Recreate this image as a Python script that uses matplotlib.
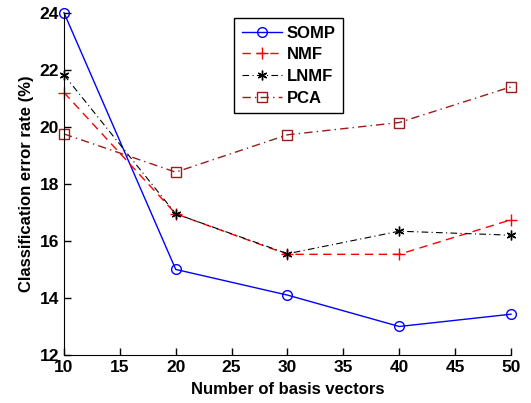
import matplotlib
matplotlib.use("Agg")
import matplotlib.pyplot as plt

x_vals = [10, 20, 30, 40, 50]
somp = [24.0, 15.0, 14.1, 13.0, 13.43]
nmf = [21.2, 16.95, 15.53, 15.53, 16.74]
lnmf = [21.82, 16.95, 15.55, 16.34, 16.2]
pca = [19.75, 18.41, 19.72, 20.15, 21.4]
labels = ["SOMP", "NMF", "LNMF", "PCA"]
xticks = [10, 15, 20, 25, 30, 35, 40, 45, 50]
yticks = [12, 14, 16, 18, 20, 22, 24]

plt.rcParams['font.family'] = ['Liberation Sans', 'DejaVu Sans']
plt.rcParams['font.weight'] = 'bold'

fig = plt.figure(figsize=(5.31, 4.03), dpi=100)
ax = fig.add_axes([0.1205, 0.1191, 0.8418, 0.8494])

pca_col = '#9b1c1c'
ax.plot(x_vals, somp, color='blue', linestyle='-', marker='o', markersize=7,
        markerfacecolor='none', markeredgecolor='blue', linewidth=1, label=labels[0],
        clip_on=False)
ax.plot(x_vals, nmf, color='red', linestyle=(0, (6, 4)), marker='+', markersize=8,
        linewidth=1, label=labels[1], clip_on=False)
ax.plot(x_vals, lnmf, color='black', linestyle=(0, (6, 3, 1, 3)), marker=(6, 2, 0), markersize=7,
        linewidth=0.8, label=labels[2], clip_on=False)
ax.plot(x_vals, pca, color=pca_col, linestyle=(0, (6, 3, 1, 3)), marker='s', markersize=6.5,
        markerfacecolor='none', markeredgecolor=pca_col, linewidth=1, label=labels[3],
        clip_on=False)

ax.set_xlim(10, 50)
ax.set_ylim(12, 24)
ax.set_xticks(xticks)
ax.set_yticks(yticks)
ax.tick_params(direction='in', length=5, labelsize=12.5, width=1)
for lab in ax.get_xticklabels() + ax.get_yticklabels():
    lab.set_fontweight('bold')
ax.spines['top'].set_visible(False)
ax.spines['right'].set_visible(False)
ax.set_xlabel("Number of basis vectors", fontsize=12, fontweight='bold', labelpad=5)
ax.set_ylabel("Classification error rate (%)", fontsize=12, fontweight='bold', labelpad=4)

leg = ax.legend(loc='upper left', bbox_to_anchor=(0.4407, 0.9553),
                bbox_transform=fig.transFigure, fancybox=False, edgecolor='black',
                framealpha=1, prop={'size': 12, 'weight': 'bold'}, borderaxespad=0,
                handlelength=2.4, labelspacing=0.4, borderpad=0.45, handletextpad=0.3)
leg.get_frame().set_linewidth(1)

fig.savefig("out.png", dpi=100)
